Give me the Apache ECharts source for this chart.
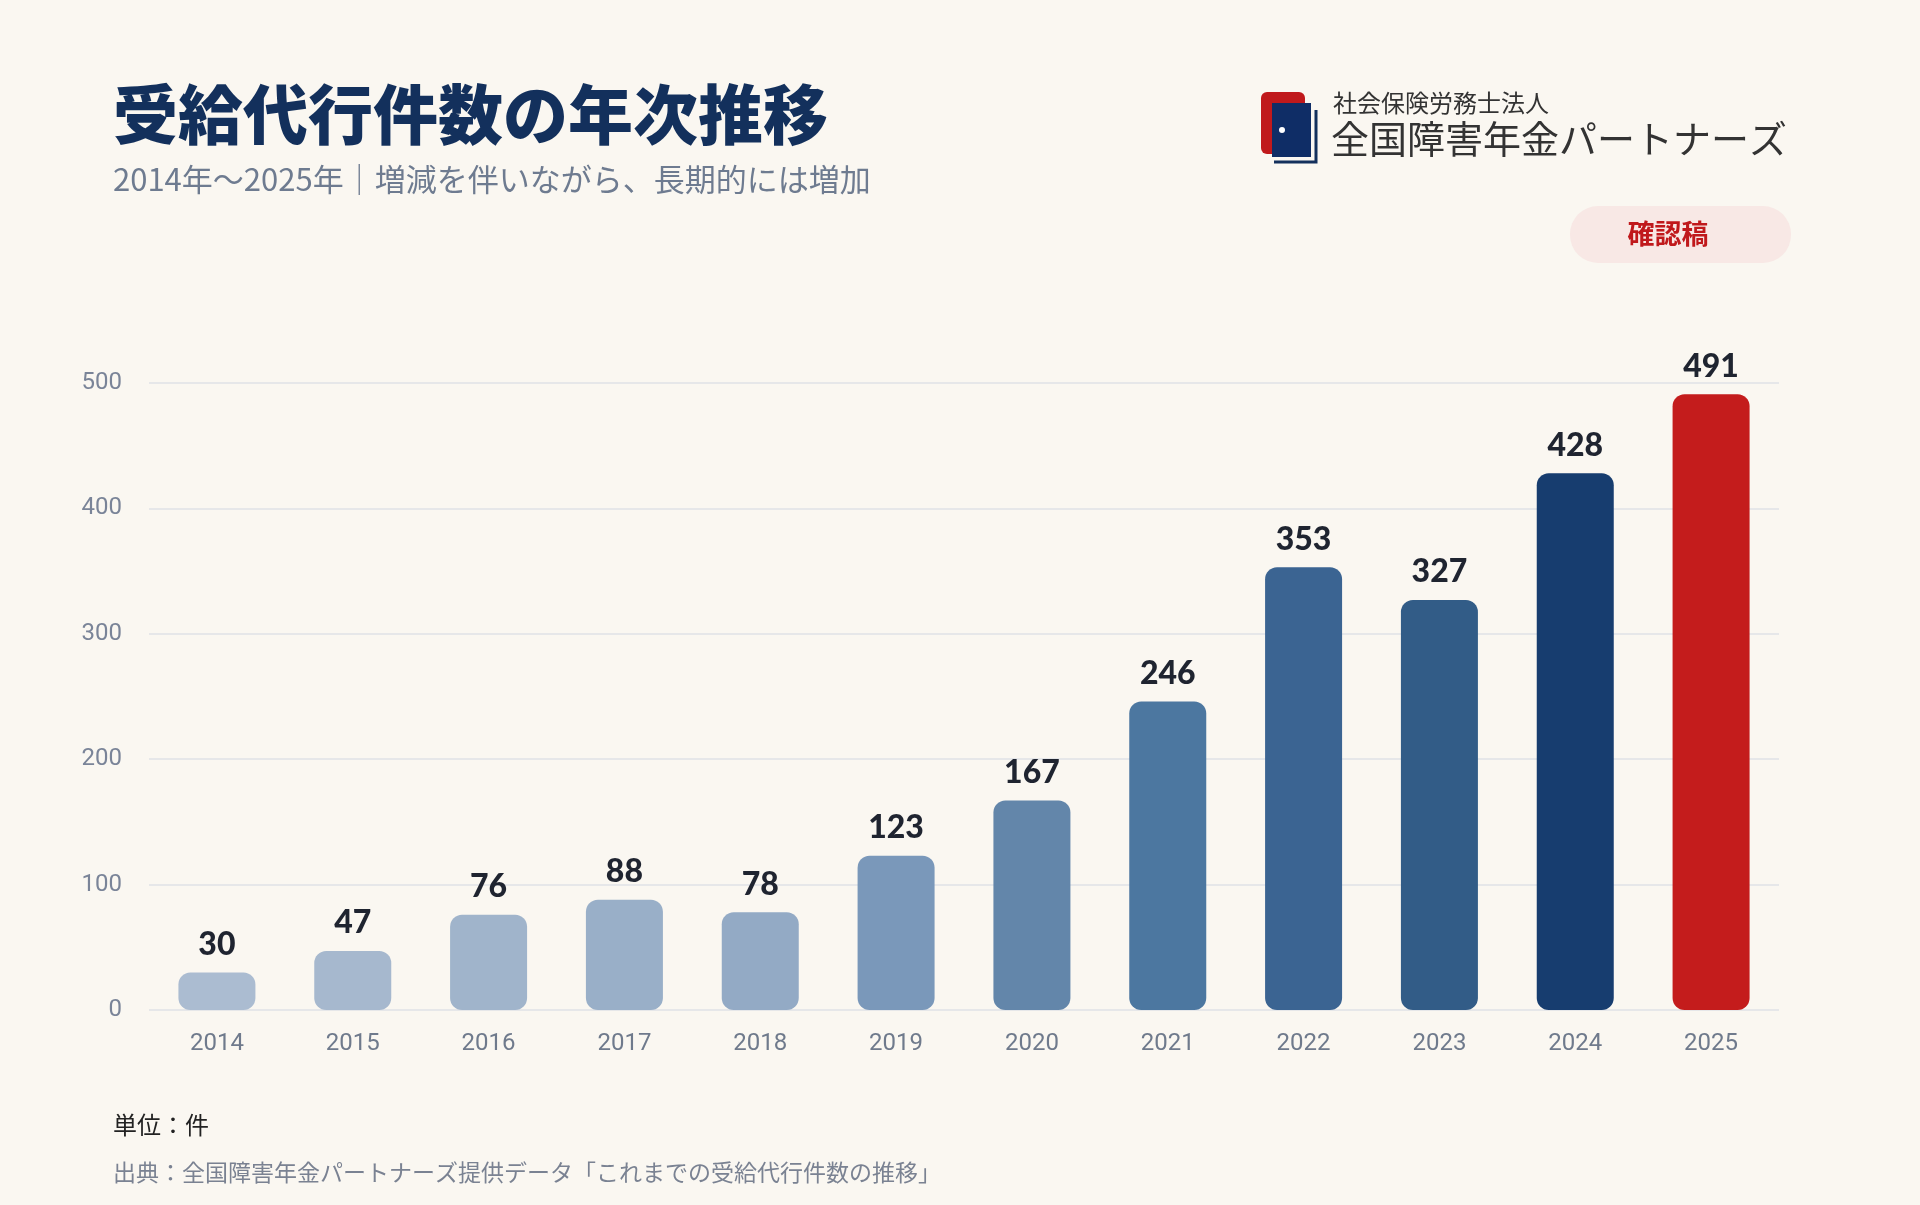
<!DOCTYPE html>
<html><head><meta charset="utf-8">
<script src="https://cdn.jsdelivr.net/npm/echarts@6/dist/echarts.min.js"></script>
<style>html,body{margin:0;padding:0;background:#faf7f1}#c{width:1920px;height:1205px}</style>
</head><body><div id="c"></div>
<script>
const years=['2014','2015','2016','2017','2018','2019','2020','2021','2022','2023','2024','2025'];
const counts=[30,47,76,88,78,123,167,246,353,327,428,491];
const barColors=['#abbcd1','#a6b8ce','#a0b4cb','#99afc8','#93aac5','#7a98ba','#6386aa','#4c77a0','#3b6492','#325c87','#173d6f','#c41c1c'];
const yTicks=[0,100,200,300,400,500];
const F='"Noto Sans CJK JP","Noto Sans",sans-serif';
const chart=echarts.init(document.getElementById('c'));
chart.setOption({
 backgroundColor:'#faf7f1',
 animation:false,
 grid:{left:149,right:141,top:383,bottom:195},
 xAxis:{type:'category',data:years,axisLine:{show:false},axisTick:{show:false},
  axisLabel:{color:'#6f7a8c',fontSize:24,fontFamily:'Roboto,sans-serif',margin:22}},
 yAxis:{type:'value',min:0,max:500,interval:100,
  axisLabel:{color:'#7a8498',fontSize:24,fontFamily:'Roboto,sans-serif',margin:27},
  splitLine:{lineStyle:{color:'#dfe2e6',width:1.5}}},
 series:[{type:'bar',barWidth:77,
  data:counts.map((v,i)=>({value:v,itemStyle:{color:barColors[i],borderRadius:12}})),
  label:{show:true,position:'top',distance:12,color:'#1f2430',fontSize:32,fontWeight:900,fontFamily:'Lato,sans-serif'}}],
 graphic:[
  {type:'text',left:113,top:82,style:{text:'受給代行件数の年次推移',font:'900 65px '+F,fill:'#13305c'}},
  {type:'text',left:113,top:164,style:{text:'2014年〜2025年｜増減を伴いながら、長期的には増加',font:'31px '+F,fill:'#6e7b90'}},
  {type:'rect',shape:{x:1261,y:92,width:44,height:62,r:6},style:{fill:'#c0191c'}},
  {type:'polyline',shape:{points:[[1316,110],[1316,162],[1274,162]]},style:{stroke:'#13305c',lineWidth:3,fill:null}},
  {type:'rect',shape:{x:1272,y:103,width:39,height:54},style:{fill:'#0f2d66'}},
  {type:'circle',shape:{cx:1282,cy:130,r:3},style:{fill:'#fff'}},
  {type:'text',left:1333,top:91,style:{text:'社会保険労務士法人',font:'24px '+F,fill:'#333'}},
  {type:'text',left:1331,top:120,style:{text:'全国障害年金パートナーズ',font:'38px '+F,fill:'#333'}},
  {type:'rect',shape:{x:1570,y:206,width:221,height:57,r:28},style:{fill:'#f8e8e5'}},
  {type:'text',x:1668,y:234,style:{text:'確認稿',font:'bold 27px '+F,fill:'#c0191c',align:'center',verticalAlign:'middle'}},
  {type:'text',left:113,top:1113,style:{text:'単位：件',font:'24px '+F,fill:'#222'}},
  {type:'text',left:113,top:1161,style:{text:'出典：全国障害年金パートナーズ提供データ「これまでの受給代行件数の推移」',font:'23px '+F,fill:'#7a8292'}}
 ]
});
</script></body></html>
